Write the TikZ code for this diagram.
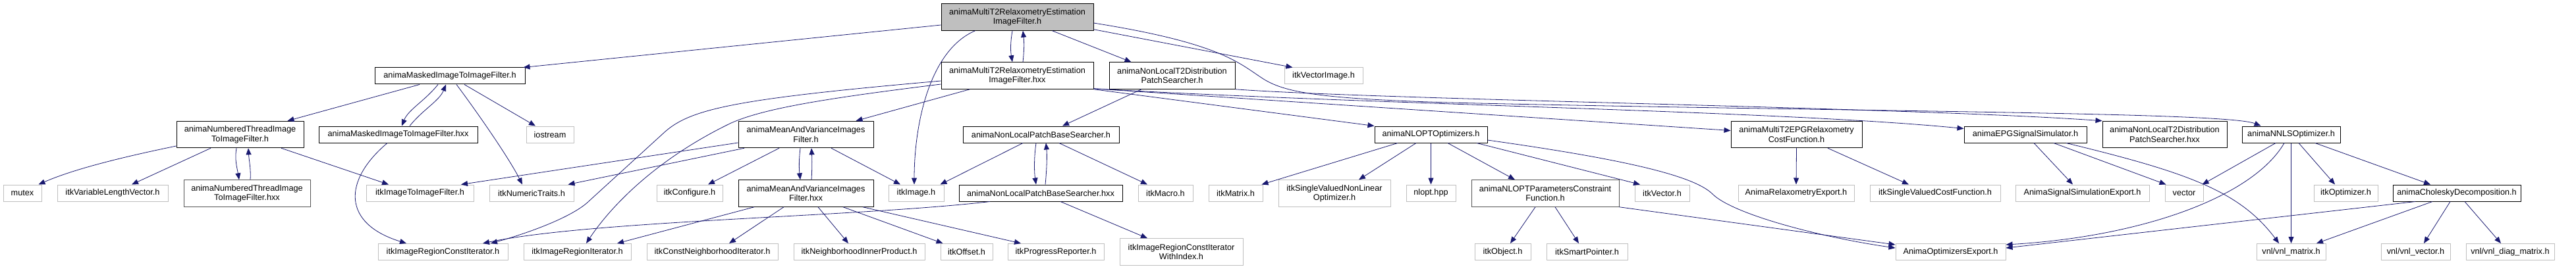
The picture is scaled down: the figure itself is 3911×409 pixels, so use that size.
\documentclass[tikz,border=0pt]{standalone}
\usepackage{fontspec}
\setmainfont{Liberation Sans}
\usetikzlibrary{arrows.meta}
\definecolor{edgeblue}{HTML}{191970}
\definecolor{boxgrey}{HTML}{BFBFBF}
\definecolor{nodocgrey}{HTML}{555555}

\begin{document}
\begin{tikzpicture}[x=1pt,y=-1pt,>={Triangle[length=10pt,width=8pt]},line width=.8pt,
    font=\fontsize{12.7}{14.5}\selectfont,
    hdr/.style={draw=black,line width=1pt,fill=white,inner sep=1pt,align=center,
      minimum height=25pt,minimum width=#1pt},
    twoline/.style={minimum height=40.5pt},
    sysinc/.style={hdr=#1,draw=boxgrey},
    mainhdr/.style={hdr=#1,fill=boxgrey},
    inc/.style={->,draw=edgeblue,line width=.8pt}]
  \useasboundingbox (0,0) rectangle (3911,409);

  \node[mainhdr=231,twoline] (main) at (1544.5,26) {animaMultiT2RelaxometryEstimation\\ImageFilter.h};
  \node[hdr=231,twoline] (mtwohxx) at (1544.5,115) {animaMultiT2RelaxometryEstimation\\ImageFilter.hxx};
  \node[hdr=228] (maskh) at (683,115.5) {animaMaskedImageToImageFilter.h};
  \node[hdr=241] (maskhxx) at (604.5,204.5) {animaMaskedImageToImageFilter.hxx};
  \node[sysinc=72] (iostream) at (835,204.5) {iostream};
  \node[hdr=193,twoline] (numh) at (364.5,204.5) {animaNumberedThreadImage\\ToImageFilter.h};
  \node[hdr=192,twoline,draw=nodocgrey] (numhxx) at (375,294) {animaNumberedThreadImage\\ToImageFilter.hxx};
  \node[sysinc=58] (mutex) at (34,293.5) {mutex};
  \node[sysinc=168] (varvec) at (171,293.5) {itkVariableLengthVector.h};
  \node[sysinc=163] (imgfilt) at (637.5,293.5) {itkImageToImageFilter.h};
  \node[sysinc=128] (numtraits) at (807,293.5) {itkNumericTraits.h};
  \node[sysinc=197] (regconstit) at (672.5,383) {itkImageRegionConstIterator.h};
  \node[sysinc=163] (regit) at (876.5,383) {itkImageRegionIterator.h};
  \node[hdr=205,twoline] (meanh) at (1223.5,204.5) {animaMeanAndVarianceImages\\Filter.h};
  \node[hdr=205,twoline] (meanhxx) at (1223.5,294) {animaMeanAndVarianceImages\\Filter.hxx};
  \node[sysinc=100] (config) at (1047,293.5) {itkConfigure.h};
  \node[sysinc=84] (image) at (1391,293.5) {itkImage.h};
  \node[sysinc=199] (constnbit) at (1081.5,383) {itkConstNeighborhoodIterator.h};
  \node[sysinc=199] (nbinner) at (1304.5,383) {itkNeighborhoodInnerProduct.h};
  \node[sysinc=79] (offset) at (1467.5,383) {itkOffset.h};
  \node[hdr=191,twoline] (tdisth) at (1779.5,115) {animaNonLocalT2Distribution\\PatchSearcher.h};
  \node[hdr=237] (patchh) at (1580.5,204.5) {animaNonLocalPatchBaseSearcher.h};
  \node[hdr=248] (patchhxx) at (1580,293.5) {animaNonLocalPatchBaseSearcher.hxx};
  \node[sysinc=83] (macro) at (1769.5,293.5) {itkMacro.h};
  \node[sysinc=82] (matrix) at (1876,293.5) {itkMatrix.h};
  \node[sysinc=146] (progress) at (1603,383) {itkProgressReporter.h};
  \node[sysinc=187,twoline] (regconstitidx) at (1793.5,383) {itkImageRegionConstIterator\\WithIndex.h};
  \node[sysinc=119] (vecimage) at (2009.5,115.5) {itkVectorImage.h};
  \node[hdr=171] (nloptopt) at (2172.5,204.5) {animaNLOPTOptimizers.h};
  \node[sysinc=170,twoline] (svnlopt) at (2026,294) {itkSingleValuedNonLinear\\Optimizer.h};
  \node[sysinc=75] (nlopthpp) at (2172.5,293.5) {nlopt.hpp};
  \node[hdr=224,twoline,draw=nodocgrey] (constrfn) at (2346,294) {animaNLOPTParametersConstraint\\Function.h};
  \node[sysinc=85] (object) at (2281.5,383) {itkObject.h};
  \node[sysinc=123] (smartptr) at (2409.5,383) {itkSmartPointer.h};
  \node[sysinc=83] (itkvec) at (2523.5,293.5) {itkVector.h};
  \node[hdr=199,twoline] (epgcost) at (2727.5,204.5) {animaMultiT2EPGRelaxometry\\CostFunction.h};
  \node[sysinc=176] (relaxexp) at (2727,293.5) {AnimaRelaxometryExport.h};
  \node[sysinc=198] (svcost) at (2938,293.5) {itkSingleValuedCostFunction.h};
  \node[sysinc=167] (optexp) at (2961.5,383) {AnimaOptimizersExport.h};
  \node[hdr=186] (epgsim) at (3075,204.5) {animaEPGSignalSimulator.h};
  \node[hdr=189,twoline] (tdisthxx) at (3286.5,204.5) {animaNonLocalT2Distribution\\PatchSearcher.hxx};
  \node[sysinc=203] (simexp) at (3161.5,293.5) {AnimaSignalSimulationExport.h};
  \node[sysinc=58] (stdvec) at (3316,293.5) {vector};
  \node[hdr=149] (nnls) at (3478.5,204.5) {animaNNLSOptimizer.h};
  \node[sysinc=97] (optimizer) at (3561.5,293.5) {itkOptimizer.h};
  \node[hdr=194] (chol) at (3730,293.5) {animaCholeskyDecomposition.h};
  \node[sysinc=105] (vnlmat) at (3478.5,383) {vnl/vnl\_matrix.h};
  \node[sysinc=105] (vnlvec) at (3667.5,383) {vnl/vnl\_vector.h};
  \node[sysinc=134] (vnldiag) at (3811,383) {vnl/vnl\_diag\_matrix.h};

  \draw[inc] ([yshift=-12pt]main.west) -- ([xshift=-3pt]maskh.north east);
  \draw[inc] ([xshift=-7.5pt]main.south) .. controls +(-3,18) and +(-3,-18) .. ([xshift=-7.5pt]mtwohxx.north);
  \draw[inc] ([xshift=8.5pt]mtwohxx.north) .. controls +(2,-18) and +(2,18) .. ([xshift=8.5pt]main.south);
  \draw[inc] ([xshift=-64pt]main.south) .. controls +(-70,30) and +(0,-90) .. ([xshift=-3pt]image.north);
  \draw[inc] ([xshift=53pt]main.south) -- ([xshift=-62pt]tdisth.north);
  \draw[inc] ([yshift=2pt]main.south east) -- ([xshift=13pt]vecimage.north west);
  \draw[inc] ([yshift=-9pt]main.east) .. controls (1850,65) and (1880,95) .. (1915,118)
    .. controls (1950,142) and (2010,150) .. (2200,156)
    .. controls (2800,170) and (3380,170) .. ([xshift=-46pt]nnls.north);

  \draw[inc] ([xshift=-72pt]mtwohxx.south) -- ([xshift=76pt]meanh.north);
  \draw[inc] ([yshift=-8pt]mtwohxx.west) .. controls (1120,150) and (1050,165) .. (1010,200)
    -- (895,305) .. controls (870,330) and (800,355) .. ([xshift=72.5pt]regconstit.north);
  \draw[inc] ([yshift=-13pt]mtwohxx.west) .. controls (1250,150) and (1160,165) .. (1110,187)
    .. controls (1000,240) and (930,310) .. ([xshift=13.5pt]regit.north);
  \draw[inc] (mtwohxx.south east) -- (nloptopt.north west);
  \draw[inc] ([yshift=1pt]mtwohxx.south east) -- ([yshift=6pt]epgcost.west);
  \draw[inc] ([yshift=1pt]mtwohxx.south east) .. controls (2100,160) and (2700,168) .. ([yshift=9pt]epgsim.west);

  \draw[inc] ([xshift=-46pt]maskh.south) -- ([xshift=72pt]numh.north);
  \draw[inc] ([xshift=-18pt]maskh.south) .. controls +(-20,25) and +(10,-25) .. ([xshift=5.5pt]maskhxx.north);
  \draw[inc] ([xshift=17.5pt]maskhxx.north) .. controls +(20,-25) and +(-10,25) .. ([xshift=-6pt]maskh.south);
  \draw[inc] ([xshift=10pt]maskh.south) .. controls +(30,40) and +(-20,-40) .. ([xshift=-14pt]numtraits.north);
  \draw[inc] ([xshift=22pt]maskh.south) -- ([xshift=-22pt]iostream.north);
  \draw[inc] ([xshift=-16.5pt]maskhxx.south) .. controls (520,275) and (520,340) .. ([xshift=-55.5pt]regconstit.north);

  \draw[inc] ([yshift=-17.5pt]numh.west) .. controls (180,240) and (110,258) .. ([xshift=-5pt]mutex.north east);
  \draw[inc] ([xshift=-44.5pt]numh.south) -- ([xshift=29pt]varvec.north);
  \draw[inc] ([xshift=-5.5pt]numh.south) .. controls +(-3,18) and +(-3,-18) .. ([xshift=-12pt]numhxx.north);
  \draw[inc] ([xshift=5pt]numhxx.north) .. controls +(1,-18) and +(1,18) .. ([xshift=12.5pt]numh.south);
  \draw[inc] ([xshift=62.5pt]numh.south) -- ([xshift=-47.5pt]imgfilt.north);

  \draw[inc] ([yshift=-12.5pt]meanh.west) -- ([xshift=62.5pt]imgfilt.north);
  \draw[inc] ([xshift=-93.5pt]meanh.south) -- ([xshift=-9pt]numtraits.north east);
  \draw[inc] ([xshift=-40.5pt]meanh.south) -- ([xshift=28pt]config.north);
  \draw[inc] ([xshift=-8.5pt]meanh.south) .. controls +(-2,18) and +(-2,-18) .. ([xshift=-8.5pt]meanhxx.north);
  \draw[inc] ([xshift=8.5pt]meanhxx.north) .. controls +(1,-18) and +(1,18) .. ([xshift=8.5pt]meanh.south);
  \draw[inc] ([xshift=38.5pt]meanh.south) -- ([xshift=-24pt]image.north);
  \draw[inc] ([xshift=-78.5pt]meanhxx.south) -- ([xshift=60.5pt]regit.north);
  \draw[inc] ([xshift=-33.5pt]meanhxx.south) -- ([xshift=25.5pt]constnbit.north);
  \draw[inc] ([xshift=18.5pt]meanhxx.south) -- ([xshift=-16.5pt]nbinner.north);
  \draw[inc] ([xshift=56.5pt]meanhxx.south) -- ([xshift=4pt]offset.north west);
  \draw[inc] ([xshift=86.5pt]meanhxx.south) -- ([xshift=-53pt]progress.north);

  \draw[inc] ([xshift=-46.5pt]tdisth.south) -- ([xshift=32.5pt]patchh.north);
  \draw[inc] (tdisth.south east) .. controls (2100,152) and (2900,163) .. (tdisthxx.north west);

  \draw[inc] ([xshift=-27.5pt]patchh.south) -- ([xshift=-6pt]image.north east);
  \draw[inc] ([xshift=-7.5pt]patchh.south) .. controls +(-3,20) and +(-3,-20) .. ([xshift=-7pt]patchhxx.north);
  \draw[inc] ([xshift=7pt]patchhxx.north) .. controls +(2,-20) and +(2,20) .. ([xshift=7.5pt]patchh.south);
  \draw[inc] ([xshift=27.5pt]patchh.south) -- ([xshift=-27.5pt]macro.north);
  \draw[inc] ([xshift=-77pt]patchhxx.south) .. controls (1300,330) and (900,335) .. ([xshift=60.5pt]regconstit.north);
  \draw[inc] ([xshift=30pt]patchhxx.south) -- ([xshift=-51.5pt]regconstitidx.north);

  \draw[inc] ([xshift=-50.5pt]nloptopt.south) -- ([xshift=-2pt]matrix.north east);
  \draw[inc] ([xshift=-22.5pt]nloptopt.south) -- ([xshift=37pt]svnlopt.north);
  \draw[inc] (nloptopt.south) -- (nlopthpp.north);
  \draw[inc] ([xshift=25.5pt]nloptopt.south) -- ([xshift=-46pt]constrfn.north);
  \draw[inc] ([xshift=69.5pt]nloptopt.south) -- ([xshift=-33.5pt]itkvec.north);
  \draw[inc] ([yshift=-8.5pt]nloptopt.east) .. controls (2450,240) and (2570,265) .. (2600,295)
    .. controls (2630,325) and (2760,360) .. ([yshift=-7pt]optexp.north west);
  \draw[inc] ([xshift=-15pt]constrfn.south) -- ([xshift=11.5pt]object.north);
  \draw[inc] ([xshift=15pt]constrfn.south) -- ([xshift=-12.5pt]smartptr.north);
  \draw[inc] (constrfn.south east) -- ([yshift=-2pt]optexp.north west);

  \draw[inc] (epgcost.south) -- (relaxexp.north);
  \draw[inc] ([xshift=47.5pt]epgcost.south) -- ([xshift=-40pt]svcost.north);

  \draw[inc] ([xshift=13pt]epgsim.south) -- ([xshift=-14.5pt]simexp.north);
  \draw[inc] ([xshift=43pt]epgsim.south) -- ([xshift=2pt]stdvec.north west);
  \draw[inc] ([xshift=62pt]epgsim.south) .. controls (3320,262) and (3400,290) .. ([xshift=-18.5pt]vnlmat.north);

  \draw[inc] ([xshift=-23.5pt]nnls.south) -- ([xshift=-2pt]stdvec.north east);
  \draw[inc] ([xshift=-10.5pt]nnls.south) .. controls (3420,300) and (3250,360) .. ([yshift=-2pt]optexp.north east);
  \draw[inc] (nnls.south) -- (vnlmat.north);
  \draw[inc] ([xshift=11.5pt]nnls.south) -- ([xshift=-16.5pt]optimizer.north);
  \draw[inc] ([xshift=36.5pt]nnls.south) -- ([xshift=-40pt]chol.north);

  \draw[inc] ([xshift=-63pt]chol.south) -- ([yshift=-7pt]optexp.north east);
  \draw[inc] ([xshift=-37pt]chol.south) -- ([xshift=38.5pt]vnlmat.north);
  \draw[inc] ([xshift=-10pt]chol.south) -- ([xshift=12.5pt]vnlvec.north);
  \draw[inc] ([xshift=12pt]chol.south) -- ([xshift=-14pt]vnldiag.north);
\end{tikzpicture}
\end{document}
